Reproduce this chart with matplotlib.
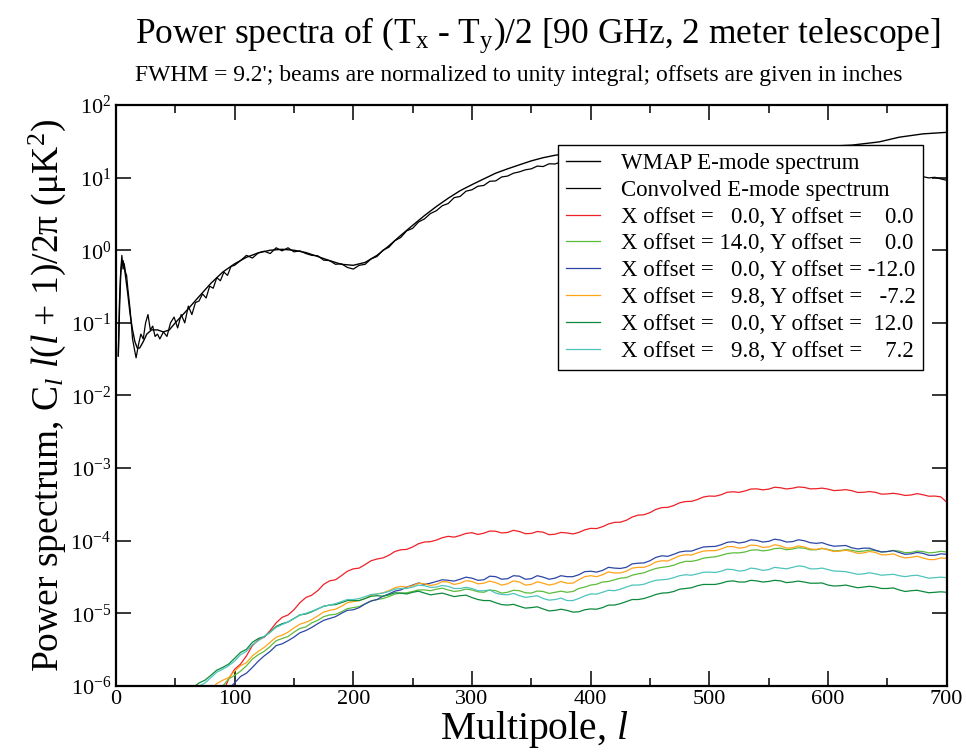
import numpy as np
import matplotlib
matplotlib.use("Agg")
import matplotlib.pyplot as plt
from matplotlib.ticker import FixedLocator, FixedFormatter, MultipleLocator

plt.rcParams["font.family"] = ["Liberation Serif", "DejaVu Serif"]
plt.rcParams["mathtext.fontset"] = "custom"
plt.rcParams["mathtext.rm"] = "Liberation Serif"
plt.rcParams["mathtext.it"] = "Liberation Serif:italic"

# smooth WMAP E-mode spectrum (uK^2)
wmap_l = [2, 3, 4, 5, 6, 7, 8, 10, 12, 14, 16, 18, 20, 23, 26, 30, 35, 40, 45, 50,
          60, 70, 80, 90, 100, 110, 120, 130, 140, 150, 160, 170, 180, 190, 200,
          210, 220, 230, 240, 250, 260, 270, 280, 290, 300, 310, 320, 330, 340, 350,
          360, 370, 380, 390, 400, 450, 500, 550, 600, 620, 643, 660, 680, 700]
wmap_cl = [0.035, 0.15, 0.45, 0.7, 0.72, 0.6, 0.45, 0.25, 0.13, 0.08, 0.055, 0.045, 0.045,
           0.055, 0.07, 0.08, 0.08, 0.075, 0.08, 0.1,
           0.15, 0.23, 0.35, 0.5, 0.65, 0.8, 0.92, 1.0, 1.03, 1.0, 0.93, 0.82, 0.72, 0.64, 0.62,
           0.68, 0.85, 1.15, 1.6, 2.2, 3.0, 4.0, 5.2, 6.6, 8.0, 9.6, 11.5, 13.2, 15.0, 17.0,
           18.8, 20.3, 21.5, 22.5, 23.0, 24.5, 25.5, 26.5, 27.0, 28.0, 31.0, 36.0, 40.0, 42.0]

# convolved E-mode spectrum (uK^2)
conv_l = [2, 3, 4, 5, 6, 7, 8, 9, 10, 12, 14, 16, 17, 19, 21, 23, 25, 27, 29, 31, 33, 35,
          37, 40, 43, 46, 49, 52, 55, 58, 61, 64, 67, 70, 73, 76, 79, 82, 85, 88, 91, 94, 97,
          100, 105, 110, 115, 120, 125, 130, 135, 140, 145, 150, 155, 160, 165, 170, 175,
          180, 185, 190, 195, 200, 205, 210, 215, 220, 225, 230, 235, 240, 245, 250, 255,
          260, 265, 270, 275, 280, 285, 290, 295, 300, 305, 310, 315, 320, 325, 330, 335,
          340, 345, 350, 355, 360, 365, 370, 375, 380, 390, 400, 420, 440, 460, 480, 500,
          520, 540, 560, 580, 600, 620, 640, 660, 670, 675, 680, 685, 690, 695, 700]
conv_cl = [0.035, 0.2, 0.5, 0.85, 0.55, 0.65, 0.5, 0.45, 0.3, 0.15, 0.06, 0.04, 0.033,
           0.05, 0.07, 0.06, 0.1, 0.13, 0.08, 0.09, 0.065, 0.07,
           0.06, 0.075, 0.065, 0.1, 0.12, 0.085, 0.13, 0.1, 0.17, 0.13, 0.19, 0.2, 0.25, 0.22,
           0.32, 0.3, 0.42, 0.38, 0.5, 0.45, 0.6,
           0.62, 0.72, 0.85, 0.78, 0.92, 0.97, 0.9, 1.08, 0.98, 1.08, 0.95, 0.98, 0.9, 0.85,
           0.84, 0.73,
           0.72, 0.64, 0.65, 0.58, 0.55, 0.62, 0.64, 0.76, 0.82, 1.0, 1.1, 1.35, 1.5, 1.85,
           2.0, 2.45,
           2.7, 3.2, 3.5, 4.1, 4.4, 5.3, 5.5, 6.5, 6.8, 7.6, 7.8, 8.9, 9.0, 10.2, 10.5, 11.5,
           12.0, 12.8, 13.2, 14.4,
           14.2, 15.5, 15.4, 16.4, 16.6, 17.0, 17.5, 17.8, 17.8, 17.5, 17.0, 16.3, 15.5, 14.6,
           13.8, 13.0, 12.2, 11.5, 11.0, 10.5, 10.3, 10.1, 10.3, 9.9, 10.1, 9.6, 9.2]

# offset beams: (Tx - Ty)/2 spectra in units of 1e-5 uK^2, at l = 60, 65, ..., 700
off_l = np.arange(60, 701, 5)
red = [0.02, 0.028, 0.035, 0.042, 0.05, 0.066, 0.08, 0.125, 0.17, 0.2,
       0.26, 0.36, 0.43, 0.47, 0.58, 0.74, 0.88, 0.95, 1.12, 1.4,
       1.65, 1.78, 2.05, 2.5, 2.8, 2.9, 3.3, 3.8, 4.1, 4.2,
       4.7, 5.3, 5.6, 5.8, 6.3, 7.1, 7.5, 7.6, 8.2, 9.1,
       9.6, 9.7, 10.2, 11.0, 11.5, 11.2, 11.8, 12.6, 12.9, 12.2,
       12.7, 13.6, 13.5, 12.8, 13.0, 13.9, 13.4, 12.5, 12.6, 13.4,
       13.1, 12.1, 12.3, 13.0, 12.8, 12.4, 13.0, 14.1, 14.8, 14.7,
       15.6, 17.0, 17.9, 18.0, 19.1, 21.2, 22.5, 22.8, 24.4, 27.0,
       28.6, 28.8, 30.5, 33.3, 34.6, 34.9, 36.9, 40.0, 41.2, 41.0,
       43.0, 46.5, 47.2, 46.3, 48.4, 51.5, 51.8, 50.2, 51.3, 54.5,
       53.6, 51.6, 52.8, 55.0, 54.2, 51.8, 52.0, 53.0, 51.4, 49.0,
       49.6, 50.5, 48.9, 46.2, 46.5, 47.5, 46.4, 43.8, 44.1, 45.0,
       43.8, 42.0, 42.6, 44.5, 43.0, 41.0, 41.2, 40.2, 34.0]
lgreen = [0.03, 0.042, 0.05, 0.058, 0.07, 0.088, 0.1, 0.125, 0.14, 0.16,
          0.19, 0.235, 0.27, 0.3, 0.35, 0.42, 0.45, 0.48, 0.55, 0.62,
          0.65, 0.74, 0.8, 0.9, 0.95, 0.97, 1.05, 1.16, 1.2, 1.24,
          1.35, 1.48, 1.55, 1.6, 1.7, 1.84, 1.9, 1.92, 2.0, 2.1,
          2.1, 2.05, 2.15, 2.22, 2.1, 2.0, 2.05, 2.16, 2.1, 1.98,
          1.95, 2.1, 2.05, 1.9, 1.95, 2.08, 2.05, 1.92, 1.9, 2.03,
          2.0, 1.88, 1.95, 2.02, 1.95, 2.0, 2.2, 2.3, 2.45, 2.52,
          2.7, 2.75, 2.9, 3.05, 3.1, 3.35, 3.5, 3.62, 3.9, 4.15,
          4.3, 4.4, 4.6, 4.95, 5.2, 5.2, 5.4, 5.75, 5.9, 6.0,
          6.3, 6.65, 6.8, 6.8, 7.0, 7.4, 7.5, 7.25, 7.4, 7.8,
          7.9, 7.5, 7.7, 8.0, 7.9, 7.5, 7.5, 7.8, 7.6, 7.25,
          7.3, 7.55, 7.4, 7.1, 7.2, 7.45, 7.3, 7.0, 7.1, 7.35,
          7.2, 6.85, 6.9, 7.2, 7.1, 6.8, 6.9, 7.15, 7.0]
blue = [0.03, 0.038, 0.045, 0.05, 0.06, 0.075, 0.085, 0.092, 0.11, 0.135,
        0.15, 0.18, 0.22, 0.26, 0.3, 0.36, 0.38, 0.42, 0.47, 0.54,
        0.58, 0.64, 0.72, 0.8, 0.85, 0.9, 1.0, 1.1, 1.12, 1.2,
        1.35, 1.48, 1.55, 1.72, 1.85, 2.02, 2.1, 2.3, 2.45, 2.62,
        2.5, 2.6, 2.75, 2.9, 2.85, 2.78, 2.95, 3.15, 3.05, 2.85,
        2.9, 3.25, 3.2, 2.95, 3.0, 3.3, 3.25, 2.95, 3.0, 3.3,
        3.15, 2.95, 3.05, 3.3, 3.2, 3.2, 3.4, 3.75, 3.8, 3.7,
        3.9, 4.3, 4.2, 4.15, 4.3, 4.8, 4.9, 4.95, 5.3, 5.9,
        6.2, 6.1, 6.5, 7.0, 7.2, 7.2, 7.7, 8.2, 8.3, 8.35,
        8.8, 9.5, 9.7, 9.3, 9.6, 10.3, 10.1, 9.6, 9.8, 10.5,
        10.2, 9.6, 9.7, 10.3, 10.0, 9.4, 9.2, 9.4, 8.8, 8.4,
        8.5, 8.6, 8.0, 7.7, 7.9, 7.9, 7.4, 7.0, 7.1, 7.3,
        6.9, 6.5, 6.6, 6.9, 6.7, 6.3, 6.3, 6.6, 6.5]
orange = [0.05, 0.062, 0.07, 0.078, 0.09, 0.108, 0.12, 0.13, 0.16, 0.19,
          0.21, 0.26, 0.3, 0.34, 0.4, 0.47, 0.5, 0.55, 0.63, 0.71,
          0.75, 0.82, 0.92, 1.04, 1.1, 1.14, 1.25, 1.4, 1.45, 1.5,
          1.6, 1.78, 1.85, 1.92, 2.05, 2.25, 2.35, 2.3, 2.4, 2.6,
          2.55, 2.42, 2.5, 2.74, 2.7, 2.5, 2.6, 2.82, 2.75, 2.55,
          2.6, 2.78, 2.65, 2.45, 2.55, 2.8, 2.7, 2.45, 2.5, 2.72,
          2.6, 2.45, 2.55, 2.75, 2.6, 2.6, 2.9, 3.2, 3.3, 3.2,
          3.4, 3.72, 3.6, 3.6, 3.8, 4.2, 4.3, 4.3, 4.6, 5.1,
          5.3, 5.25, 5.7, 6.2, 6.4, 6.35, 6.8, 7.2, 7.3, 7.3,
          7.7, 8.3, 8.3, 7.9, 8.1, 8.7, 8.6, 8.1, 8.2, 8.8,
          8.5, 7.9, 8.0, 8.5, 8.2, 7.7, 7.6, 7.9, 7.5, 7.1,
          7.2, 7.4, 7.1, 6.7, 6.8, 7.1, 6.9, 6.4, 6.4, 6.6,
          6.1, 5.8, 5.9, 6.1, 5.8, 5.5, 5.5, 5.8, 5.7]
dgreen = [0.07, 0.095, 0.11, 0.12, 0.14, 0.165, 0.18, 0.2, 0.24, 0.29,
          0.32, 0.4, 0.45, 0.48, 0.55, 0.66, 0.72, 0.76, 0.85, 0.95,
          0.98, 1.05, 1.15, 1.25, 1.3, 1.32, 1.4, 1.5, 1.5, 1.5,
          1.6, 1.72, 1.75, 1.72, 1.8, 1.92, 1.9, 1.85, 1.95, 2.02,
          1.9, 1.8, 1.85, 1.9, 1.8, 1.7, 1.75, 1.78, 1.65, 1.55,
          1.5, 1.5, 1.4, 1.32, 1.3, 1.33, 1.25, 1.18, 1.2, 1.23,
          1.15, 1.08, 1.1, 1.14, 1.1, 1.04, 1.05, 1.12, 1.15, 1.14,
          1.2, 1.3, 1.3, 1.36, 1.45, 1.55, 1.55, 1.6, 1.7, 1.82,
          1.9, 1.92, 2.0, 2.15, 2.2, 2.25, 2.4, 2.5, 2.5, 2.5,
          2.6, 2.75, 2.8, 2.7, 2.7, 2.85, 2.8, 2.7, 2.75, 2.85,
          2.8, 2.65, 2.7, 2.78, 2.7, 2.6, 2.6, 2.62, 2.45, 2.38,
          2.4, 2.45, 2.35, 2.25, 2.3, 2.36, 2.3, 2.2, 2.2, 2.24,
          2.1, 2.0, 2.05, 2.08, 2.0, 1.92, 1.95, 1.98, 1.95]
teal = [0.06, 0.085, 0.1, 0.11, 0.13, 0.155, 0.17, 0.19, 0.22, 0.27,
        0.3, 0.37, 0.42, 0.48, 0.55, 0.64, 0.7, 0.76, 0.85, 0.95,
        1.0, 1.07, 1.15, 1.25, 1.3, 1.36, 1.45, 1.55, 1.55, 1.6,
        1.7, 1.82, 1.85, 1.9, 2.0, 2.15, 2.2, 2.2, 2.3, 2.45,
        2.4, 2.28, 2.3, 2.42, 2.35, 2.2, 2.2, 2.28, 2.2, 2.05,
        2.05, 2.1, 1.9, 1.82, 1.8, 1.88, 1.75, 1.66, 1.7, 1.75,
        1.6, 1.52, 1.55, 1.62, 1.5, 1.5, 1.6, 1.74, 1.85, 1.84,
        1.95, 2.08, 2.05, 2.15, 2.3, 2.45, 2.45, 2.52, 2.7, 2.85,
        2.9, 2.95, 3.1, 3.3, 3.4, 3.35, 3.5, 3.68, 3.7, 3.65,
        3.8, 4.05, 4.0, 3.82, 3.9, 4.2, 4.1, 3.9, 4.0, 4.3,
        4.2, 4.1, 4.3, 4.5, 4.4, 4.1, 4.1, 4.2, 4.0, 3.82,
        3.8, 3.75, 3.6, 3.45, 3.5, 3.62, 3.5, 3.35, 3.4, 3.45,
        3.3, 3.2, 3.3, 3.35, 3.2, 3.05, 3.1, 3.15, 3.1]

offset_labels = ["X offset =   0.0, Y offset =    0.0",
                 "X offset = 14.0, Y offset =    0.0",
                 "X offset =   0.0, Y offset = -12.0",
                 "X offset =   9.8, Y offset =   -7.2",
                 "X offset =   0.0, Y offset =  12.0",
                 "X offset =   9.8, Y offset =    7.2"]
offset_colors = ["#ee2028", "#5cbc3c", "#2c46a4", "#ffa31a", "#0c8a3c", "#4ec4bc"]


def main():
    fig = plt.figure(figsize=(9.66, 7.52), dpi=100)
    ax = fig.add_axes([0.120, 0.0878, 0.860, 0.7726])

    ax.semilogy(wmap_l, wmap_cl, color="black", lw=1.0, label="WMAP E-mode spectrum")
    ax.semilogy(conv_l, conv_cl, color="black", lw=0.9, label="Convolved E-mode spectrum")

    series = [red, lgreen, blue, orange, dgreen, teal]
    for y, c, lab in zip(series, offset_colors, offset_labels):
        ax.semilogy(off_l, np.array(y) * 1e-5, color=c, lw=0.9, label=lab)

    ax.set_xlim(0, 700)
    ax.set_ylim(1e-6, 1e2)

    ax.xaxis.set_major_locator(MultipleLocator(100))
    ax.xaxis.set_minor_locator(MultipleLocator(50))
    decades = list(range(-6, 3))
    ax.yaxis.set_major_locator(FixedLocator([10.0 ** d for d in decades]))
    ax.yaxis.set_major_formatter(FixedFormatter([r"$\mathregular{10^{%d}}$" % d for d in decades]))
    ax.yaxis.set_minor_locator(FixedLocator([]))

    ax.tick_params(which="both", direction="in", top=True, right=True, width=1.1, labelsize=16)
    ax.tick_params(which="major", length=11)
    ax.tick_params(which="minor", length=6)
    ax.tick_params(axis="x", pad=3)
    for s in ax.spines.values():
        s.set_linewidth(1.6)

    # x label sits right under the tick labels, as in the original
    fig.text(0.553, 0.002, r"Multipole, $\mathit{l}$", ha="center", va="bottom", fontsize=28.5)
    ax.set_ylabel(r"Power spectrum, C$_{\mathit{l}}$ $\mathit{l}$($\mathit{l}$ + 1)/2π (μK$^2$)",
                  fontsize=27, labelpad=2)

    leg = ax.legend(loc="upper right", bbox_to_anchor=(0.972, 0.931), fontsize=16.5,
                    frameon=True, fancybox=False, framealpha=1, edgecolor="black",
                    handlelength=1.5, handletextpad=0.9, labelspacing=0.25,
                    borderpad=0.35, borderaxespad=0)
    leg.get_frame().set_linewidth(1.0)

    fig.text(0.557, 0.953, r"Power spectra of (T$_\mathregular{x}$ - T$_\mathregular{y}$)/2 [90 GHz, 2 meter telescope]",
             ha="center", va="center", fontsize=25.5)
    fig.text(0.537, 0.900, "FWHM = 9.2'; beams are normalized to unity integral; offsets are given in inches",
             ha="center", va="center", fontsize=17)

    fig.savefig("out.png", dpi=100)


if __name__ == "__main__":
    main()
